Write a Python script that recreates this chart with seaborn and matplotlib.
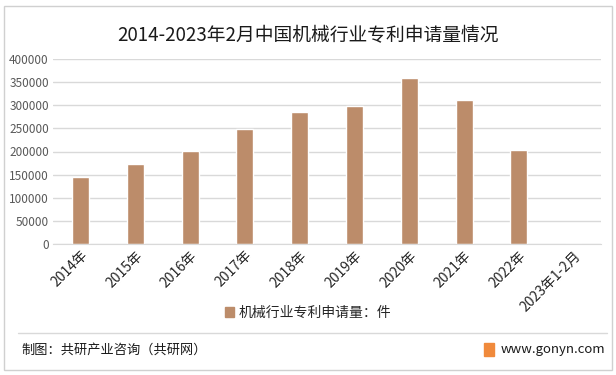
import matplotlib
matplotlib.use('Agg')
import matplotlib.pyplot as plt
import seaborn as sns
import pandas as pd
from matplotlib.patches import Rectangle, Patch
from matplotlib.lines import Line2D

years = ['2014年', '2015年', '2016年', '2017年', '2018年', '2019年', '2020年', '2021年', '2022年', '2023年1-2月']
patents = [145000, 173000, 201000, 248000, 285000, 298000, 359000, 311000, 203000, 0]
series_name = '机械行业专利申请量：件'
yticks = [0, 50000, 100000, 150000, 200000, 250000, 300000, 350000, 400000]

df = pd.DataFrame({'year': years, 'value': patents})

sns.set_style('white')
plt.rcParams['font.family'] = ['Noto Sans CJK SC', 'DejaVu Sans']

bar_color = '#BC8C6A'

fig = plt.figure(figsize=(6.16, 3.75), dpi=100)
ax = fig.add_axes([0.086, 0.349, 0.89, 0.494])

sns.barplot(data=df, x='year', y='value', color=bar_color, width=0.31, ax=ax, saturation=1)

ax.set_ylim(0, 400000)
ax.set_yticks(yticks)
ax.set_yticklabels([str(v) for v in yticks], fontsize=8.5, color='#595959')
ax.yaxis.grid(True, color='#D9D9D9', linewidth=1)
ax.set_axisbelow(True)
for s in ['top', 'right', 'left']:
    ax.spines[s].set_visible(False)
ax.spines['bottom'].set_color('#D9D9D9')
ax.tick_params(axis='both', length=0, pad=3)
ax.set_xlabel('')
ax.set_ylabel('')
ax.set_xticks(range(len(years)))
ax.set_xticklabels(years, rotation=45, ha='right', rotation_mode='anchor', fontsize=10, color='#262626')

fig.text(0.5, 0.905, '2014-2023年2月中国机械行业专利申请量情况', ha='center', va='center', fontsize=13.5, color='#1a1a1a')

fig.legend(handles=[Patch(color=bar_color)], labels=[series_name], loc='center', bbox_to_anchor=(0.5, 0.165),
           frameon=False, fontsize=10, handlelength=0.7, handleheight=0.7, handletextpad=0.3)

# outer border and footer
fig.add_artist(Rectangle((0.007, 0.013), 0.986, 0.972, transform=fig.transFigure, fill=False,
                         edgecolor='#D0D0D0', linewidth=1))
fig.add_artist(Line2D([0.03, 0.985], [0.112, 0.112], transform=fig.transFigure, color='#D9D9D9', linewidth=1))
fig.text(0.035, 0.067, '制图：共研产业咨询（共研网）', ha='left', va='center', fontsize=9.5, color='#1a1a1a')
fig.add_artist(Rectangle((0.786, 0.05), 0.016, 0.035, transform=fig.transFigure, color='#F08A3C'))
fig.text(0.812, 0.067, 'www.gonyn.com', ha='left', va='center', fontsize=9.5, color='#1a1a1a')

fig.savefig('out.png', dpi=100)
